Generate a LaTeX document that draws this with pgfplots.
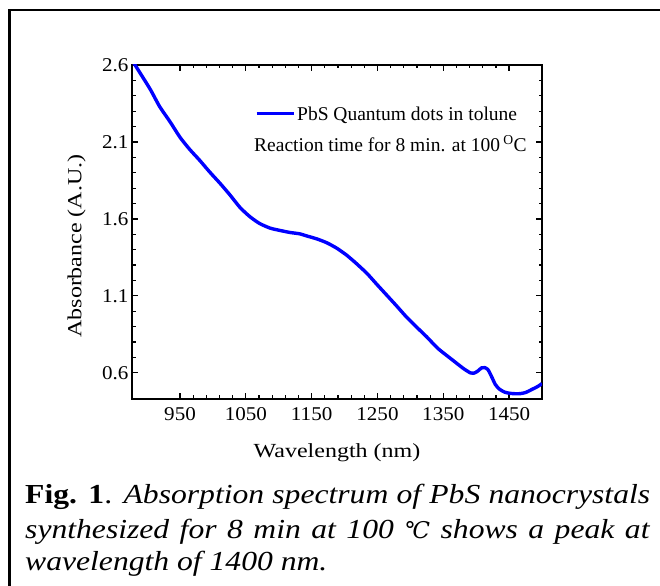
\documentclass[border=0pt]{standalone}
\usepackage{fontspec}
\setmainfont{Liberation Serif}
\newfontfamily\capfont[FakeStretch=1.15]{Liberation Serif}
\newfontfamily\labfont[FakeStretch=1.2]{Liberation Serif}
\newfontfamily\tickfont[FakeStretch=1.08]{Liberation Serif}
\newfontfamily\djv{DejaVu Serif}
\usepackage{pgfplots}
\pgfplotsset{compat=1.18}
\begin{document}
\begin{tikzpicture}
\useasboundingbox (0,0) rectangle (660bp,586bp);
\draw[line width=2.5bp] (9.5bp,-20bp) -- (9.5bp,576bp) -- (700bp,576bp);
\begin{axis}[
  at={(132bp,187bp)}, anchor=south west,
  width=410bp, height=334bp, scale only axis,
  xmin=877, xmax=1500, ymin=0.43, ymax=2.6,
  xtick={950,1050,1150,1250,1350,1450},
  ytick={0.6,1.1,1.6,2.1,2.6},
  minor x tick num=4, minor y tick num=4,
  tick align=inside,
  major tick length=6bp, minor tick length=3.5bp,
  axis line style={line width=1.5bp},
  every tick/.style={black, line width=1.2bp},
  /pgf/number format/assume math mode=true,
  /pgf/number format/1000 sep={},
  ticklabel style={font=\tickfont\fontsize{19.5bp}{19.5bp}\selectfont},
  xticklabel style={yshift=-5bp},
  xlabel={Wavelength (nm)}, ylabel={Absorbance (A.U.)},
  label style={font=\labfont\fontsize{20bp}{20bp}\selectfont},
  xlabel style={at={(axis description cs:0.5,-0.1737)}, anchor=base},
  ylabel style={at={(axis description cs:-0.1349,0.458)}, anchor=center},
  legend style={draw=none, fill=none, at={(axis description cs:0.3,0.8533)}, anchor=west,
    inner sep=0pt, font=\fontsize{19.5bp}{19.5bp}\selectfont},
  legend image code/.code={\draw[line width=3bp, blue] (0bp,0bp) -- (37bp,0bp);},
]
\addplot[blue, line width=3.4bp, line join=round, smooth, tension=0.4] coordinates {
(878,2.625) (889,2.55) (905,2.44) (919,2.33) (935,2.23) (950,2.13) (965,2.05)
(980,1.98) (995,1.905) (1011,1.83) (1026,1.755) (1041,1.675) (1056,1.615)
(1071,1.57) (1087,1.54) (1102,1.525) (1117,1.512) (1132,1.503) (1142,1.49)
(1158,1.47) (1173,1.445) (1188,1.41) (1203,1.365) (1218,1.31) (1234,1.246)
(1249,1.175) (1264,1.105) (1279,1.035) (1294,0.963) (1310,0.895) (1325,0.833)
(1342,0.758) (1365,0.68) (1380,0.63) (1391,0.60) (1396,0.597) (1402,0.61)
(1408,0.632) (1413,0.634) (1418,0.62) (1424,0.57) (1429,0.525) (1435,0.495)
(1443,0.475) (1451,0.467) (1460,0.464) (1467,0.465) (1475,0.472) (1486,0.495)
(1493,0.51) (1500,0.53)
};
\addlegendentry{PbS Quantum dots in tolune}
\node[anchor=base west, inner sep=0pt, font=\fontsize{19.5bp}{19.5bp}\selectfont]
  at (axis description cs:0.2976,0.7404) {Reaction time for 8 min. at 100\,\textsuperscript{O}C};
\end{axis}
\node[anchor=base west, inner sep=0pt] at (25bp,82bp)
  {\capfont\fontsize{27.5bp}{27.5bp}\selectfont\makebox[625bp][s]{\textbf{Fig. 1}. \textit{Absorption spectrum of PbS nanocrystals}}};
\node[anchor=base west, inner sep=0pt] at (25bp,47.7bp)
  {\capfont\fontsize{27.5bp}{27.5bp}\selectfont\makebox[625bp][s]{\textit{synthesized for 8 min at 100 {\djv\itshape\fontsize{23bp}{23bp}\selectfont ℃} shows a peak at}}};
\node[anchor=base west, inner sep=0pt] at (25bp,16bp)
  {\capfont\fontsize{27.5bp}{27.5bp}\selectfont\textit{wavelength of 1400 nm.}};
\end{tikzpicture}
\end{document}
